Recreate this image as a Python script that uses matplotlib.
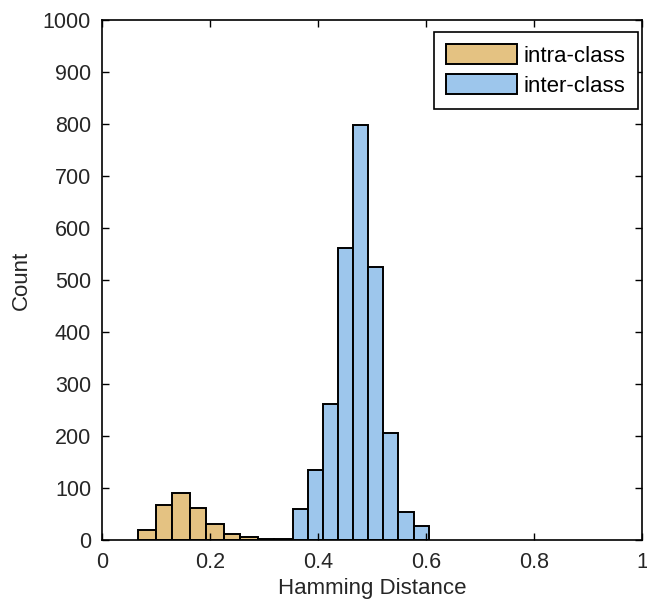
import numpy as np
import matplotlib.pyplot as plt

plt.rcParams['font.family'] = ['Liberation Sans', 'DejaVu Sans']

# bin edges and counts
intra_edges = [0.067, 0.099, 0.130, 0.162, 0.193, 0.225, 0.256, 0.288, 0.319, 0.351]
intra_counts = [19, 67, 90, 61, 31, 11, 5, 2, 2]

inter_edges = [0.353, 0.381, 0.409, 0.437, 0.465, 0.493, 0.521, 0.549, 0.577, 0.605]
inter_counts = [60, 135, 261, 561, 798, 524, 205, 53, 26]

x_ticks = [0, 0.2, 0.4, 0.6, 0.8, 1]
x_ticklabels = ['0', '0.2', '0.4', '0.6', '0.8', '1']
y_ticks = list(range(0, 1001, 100))

fig = plt.figure(figsize=(6.47, 6.04), dpi=100)
ax = fig.add_axes([0.158, 0.106, 0.834, 0.861])

e = np.array(intra_edges)
ax.bar(e[:-1], intra_counts, width=np.diff(e), align='edge',
       color='#E4C282', edgecolor='black', linewidth=1.4, label='intra-class')
e = np.array(inter_edges)
ax.bar(e[:-1], inter_counts, width=np.diff(e), align='edge',
       color='#9DC6EC', edgecolor='black', linewidth=1.4, label='inter-class')

ax.set_xlim(0, 1)
ax.set_ylim(0, 1000)
ax.set_xticks(x_ticks)
ax.set_xticklabels(x_ticklabels)
ax.set_yticks(y_ticks)
ax.tick_params(direction='in', length=5, width=1, top=True, right=True,
               labelsize=15.5, labelcolor='#262626')
ax.tick_params(axis='x', pad=9)
ax.tick_params(axis='y', pad=8)
for s in ax.spines.values():
    s.set_linewidth(1.2)

ax.set_xlabel('Hamming Distance', fontsize=16, color='#262626', labelpad=3)
ax.set_ylabel('Count', fontsize=16, color='#262626', labelpad=8)

leg = ax.legend(loc='upper right', bbox_to_anchor=(0.993, 0.977), borderaxespad=0,
                fontsize=16, fancybox=False, framealpha=1,
                edgecolor='black', handlelength=3.2, handleheight=1.0,
                borderpad=0.55, labelspacing=0.35, handletextpad=0.3)
leg.get_frame().set_linewidth(1.2)

fig.savefig('out.png', dpi=100)
